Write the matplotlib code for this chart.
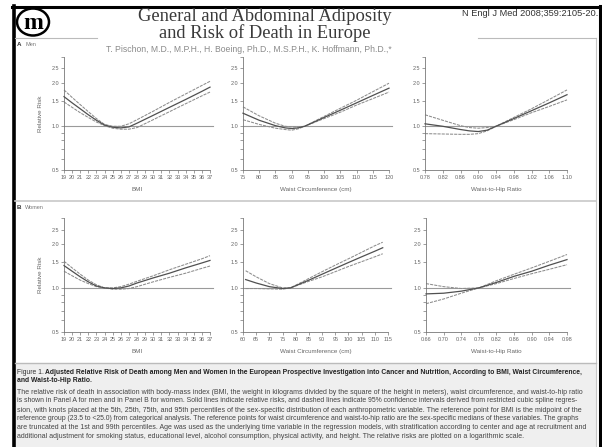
import matplotlib
matplotlib.use('Agg')
import matplotlib.pyplot as plt
from matplotlib.patches import Ellipse, Rectangle
from matplotlib.lines import Line2D

W, H = 602, 447

# ---------------- data ----------------
bmi_ticks = [19, 20, 21, 22, 23, 24, 25, 26, 27, 28, 29, 30, 31, 32, 33, 34, 35, 36, 37]
men_waist_ticks = [75, 80, 85, 90, 95, 100, 105, 110, 115, 120]
men_whr_ticks = ["0.78", "0.82", "0.86", "0.90", "0.94", "0.98", "1.02", "1.06", "1.10"]
women_waist_ticks = [60, 65, 70, 75, 80, 85, 90, 95, 100, 105, 110, 115]
women_whr_ticks = ["0.66", "0.70", "0.74", "0.78", "0.82", "0.86", "0.90", "0.94", "0.98"]
rr_ticks = ["0.5", "1.0", "1.5", "2.0", "2.5"]

men_bmi_x = [19, 20, 21, 22, 23, 24, 25, 26, 27, 28, 30, 32, 34, 36, 37]
men_bmi_rr = [1.60, 1.45, 1.32, 1.20, 1.10, 1.02, 0.985, 0.975, 0.99, 1.05, 1.19, 1.35, 1.53, 1.74, 1.86]
men_bmi_hi = [1.78, 1.58, 1.41, 1.26, 1.13, 1.03, 1.00, 1.00, 1.04, 1.11, 1.27, 1.46, 1.67, 1.91, 2.04]
men_bmi_lo = [1.47, 1.35, 1.24, 1.15, 1.07, 1.01, 0.97, 0.955, 0.955, 0.98, 1.11, 1.26, 1.43, 1.62, 1.72]

men_waist_x = [75, 80, 85, 88, 90, 92, 94, 100, 105, 110, 115, 120]
men_waist_rr = [1.23, 1.10, 1.01, 0.975, 0.965, 0.975, 1.0, 1.15, 1.29, 1.45, 1.63, 1.83]
men_waist_hi = [1.36, 1.18, 1.05, 1.00, 0.99, 0.99, 1.0, 1.17, 1.33, 1.51, 1.73, 1.98]
men_waist_lo = [1.11, 1.03, 0.97, 0.95, 0.94, 0.96, 1.0, 1.13, 1.25, 1.40, 1.55, 1.72]

men_whr_x = [0.78, 0.82, 0.86, 0.88, 0.90, 0.92, 0.94, 0.98, 1.02, 1.06, 1.10]
men_whr_rr = [1.04, 1.00, 0.95, 0.93, 0.92, 0.94, 1.0, 1.13, 1.28, 1.45, 1.65]
men_whr_hi = [1.20, 1.10, 1.01, 0.98, 0.97, 0.98, 1.0, 1.15, 1.32, 1.53, 1.78]
men_whr_lo = [0.89, 0.885, 0.88, 0.88, 0.89, 0.93, 1.0, 1.11, 1.24, 1.37, 1.52]

women_bmi_x = [19, 20, 21, 22, 23, 24, 25, 26, 27, 28, 30, 32, 34, 36, 37]
women_bmi_rr = [1.42, 1.30, 1.19, 1.10, 1.03, 1.0, 0.99, 1.0, 1.03, 1.08, 1.17, 1.26, 1.37, 1.48, 1.54]
women_bmi_hi = [1.52, 1.37, 1.24, 1.13, 1.05, 1.0, 1.0, 1.02, 1.06, 1.11, 1.21, 1.33, 1.45, 1.58, 1.66]
women_bmi_lo = [1.30, 1.21, 1.13, 1.07, 1.02, 1.0, 0.98, 0.98, 0.99, 1.02, 1.10, 1.18, 1.26, 1.36, 1.41]

women_waist_x = [61, 65, 70, 75, 78, 85, 90, 95, 100, 105, 110, 113]
women_waist_rr = [1.14, 1.08, 1.02, 0.99, 1.0, 1.13, 1.24, 1.36, 1.49, 1.63, 1.78, 1.88]
women_waist_hi = [1.31, 1.19, 1.07, 1.00, 1.0, 1.16, 1.29, 1.43, 1.58, 1.75, 1.94, 2.05]
women_waist_lo = [0.99, 0.99, 0.985, 0.98, 1.0, 1.11, 1.19, 1.29, 1.40, 1.51, 1.63, 1.71]

women_whr_x = [0.66, 0.70, 0.74, 0.78, 0.82, 0.86, 0.90, 0.94, 0.98]
women_whr_rr = [0.91, 0.92, 0.95, 1.0, 1.09, 1.20, 1.30, 1.43, 1.56]
women_whr_hi = [1.07, 1.02, 0.99, 1.0, 1.12, 1.24, 1.37, 1.52, 1.69]
women_whr_lo = [0.78, 0.84, 0.92, 1.0, 1.07, 1.16, 1.25, 1.34, 1.44]

title_lines = ["General and Abdominal Adiposity", "and Risk of Death in Europe"]
citation = "N Engl J Med 2008;359:2105-20."
authors = "T. Pischon, M.D., M.P.H., H. Boeing, Ph.D., M.S.P.H., K. Hoffmann, Ph.D.,*"
cap_head1 = "Adjusted Relative Risk of Death among Men and Women in the European Prospective Investigation into Cancer and Nutrition, According to BMI, Waist Circumference,"
cap_head2 = "and Waist-to-Hip Ratio."
cap_body = [
    "The relative risk of death in association with body-mass index (BMI, the weight in kilograms divided by the square of the height in meters), waist circumference, and waist-to-hip ratio",
    "is shown in Panel A for men and in Panel B for women. Solid lines indicate relative risks, and dashed lines indicate 95% confidence intervals derived from restricted cubic spline regres-",
    "sion, with knots placed at the 5th, 25th, 75th, and 95th percentiles of the sex-specific distribution of each anthropometric variable. The reference point for BMI is the midpoint of the",
    "reference group (23.5 to <25.0) from categorical analysis. The reference points for waist circumference and waist-to-hip ratio are the sex-specific medians of these variables. The graphs",
    "are truncated at the 1st and 99th percentiles. Age was used as the underlying time variable in the regression models, with stratification according to center and age at recruitment and",
    "additional adjustment for smoking status, educational level, alcohol consumption, physical activity, and height. The relative risks are plotted on a logarithmic scale.",
]

# ---------------- figure ----------------
plt.rcParams['font.family'] = ['Liberation Sans', 'DejaVu Sans']
fig = plt.figure(figsize=(W / 100, H / 100), dpi=100)
fig.patch.set_facecolor('white')


def fx(x):
    return x / W


def fy(y):
    return 1 - y / H


def hline(y, x0, x1, color, lw):
    fig.add_artist(Line2D([fx(x0), fx(x1)], [fy(y), fy(y)], color=color, lw=lw))


def vline(x, y0, y1, color, lw):
    fig.add_artist(Line2D([fx(x), fx(x)], [fy(y0), fy(y1)], color=color, lw=lw))


# caption background
fig.add_artist(Rectangle((fx(15), fy(447)), fx(596) - fx(15), fy(363) - fy(447),
                         facecolor='#efefef', edgecolor='none', zorder=0))
# frame lines
hline(7, 12, 601, 'black', 2.2)
vline(13.5, 6, 447, 'black', 2.6)
vline(600, 6, 447, 'black', 2.2)
vline(596, 38, 447, '#c8c8c8', 0.8)
hline(38, 15, 97, '#bbbbbb', 0.8)
hline(38, 478, 596, '#bbbbbb', 0.8)
hline(201, 15, 596, '#c8c8c8', 1.2)
hline(363, 15, 596, '#bbbbbb', 1.0)

# logo
fig.add_artist(Ellipse((fx(33), fy(22)), 32 / W, 27 / H, facecolor='none',
                       edgecolor='black', lw=1.8))
fig.text(fx(33), fy(23.5), "m", ha='center', va='center', fontsize=17,
         fontweight='bold', family='Liberation Serif', color='black')

# header text
fig.text(fx(265), fy(21), title_lines[0], ha='center', va='baseline', fontsize=13.3,
         family='Liberation Serif', color='#3a3a3a')
fig.text(fx(265), fy(38), title_lines[1], ha='center', va='baseline', fontsize=13.3,
         family='Liberation Serif', color='#3a3a3a')
fig.text(fx(598), fy(13), citation, ha='right', va='center', fontsize=6.7, color='#333333')
fig.text(fx(106), fy(49), authors, ha='left', va='center', fontsize=6.2, color='#8a8a8a')

fig.text(fx(17), fy(45), "A", ha='left', va='center', fontsize=4.5, fontweight='bold', color='#333333')
fig.text(fx(25), fy(45), "Men", ha='left', va='center', fontsize=4, color='#777777')
fig.text(fx(17), fy(208), "B", ha='left', va='center', fontsize=4.5, fontweight='bold', color='#333333')
fig.text(fx(25), fy(208), "Women", ha='left', va='center', fontsize=4, color='#777777')


def make_axes(x0, x1, ytop, ybot, xlim, ticks, ticklabels, xlabel, ylabel,
              xs, rr, hi, lo):
    ax = fig.add_axes([fx(x0), fy(ybot), fx(x1) - fx(x0), fy(ytop) - fy(ybot)])
    ax.set_yscale('log')
    ax.set_ylim(0.5, 3.0)
    ax.set_xlim(*xlim)
    ax.patch.set_alpha(0)
    for s in ['top', 'right']:
        ax.spines[s].set_visible(False)
    for s in ['left', 'bottom']:
        ax.spines[s].set_color('#777777')
        ax.spines[s].set_linewidth(0.6)
    ax.set_yticks([float(t) for t in rr_ticks])
    ax.set_yticklabels(rr_ticks)
    ax.set_yticks([0.6, 0.7, 0.8, 0.9, 3.0], minor=True)
    ax.yaxis.set_minor_formatter(plt.NullFormatter())
    ax.set_xticks([float(t) for t in ticks])
    ax.set_xticklabels([str(t) for t in ticklabels])
    ax.tick_params(which='both', length=2.5, width=0.5, colors='#777777',
                   labelsize=4, pad=1, labelcolor='#666666')
    ax.tick_params(which='minor', length=2.0)
    span = xlim[1] - xlim[0]
    ax.plot([xlim[0], xlim[1] + 0.02 * span], [1, 1], color='#9a9a9a', lw=0.8,
            clip_on=False, zorder=1)
    ax.plot(xs, hi, color='#8c8c8c', lw=0.75, ls=(0, (3, 1)), zorder=2, clip_on=False)
    ax.plot(xs, lo, color='#8c8c8c', lw=0.75, ls=(0, (3, 1)), zorder=2, clip_on=False)
    ax.plot(xs, rr, color='#505050', lw=0.9, zorder=3, clip_on=False)
    ax.set_xlabel(xlabel, fontsize=4.5, color='#666666', labelpad=5)
    if ylabel:
        ax.set_ylabel(ylabel, fontsize=4.5, color='#666666', labelpad=6)
    return ax


make_axes(64, 210, 57, 170, (19, 37), bmi_ticks, bmi_ticks, "BMI", "Relative Risk",
          men_bmi_x, men_bmi_rr, men_bmi_hi, men_bmi_lo)
make_axes(243, 389, 57, 170, (75, 120), men_waist_ticks, men_waist_ticks,
          "Waist Circumference (cm)", None,
          men_waist_x, men_waist_rr, men_waist_hi, men_waist_lo)
make_axes(425, 567, 57, 170, (0.78, 1.10), men_whr_ticks, men_whr_ticks,
          "Waist-to-Hip Ratio", None,
          men_whr_x, men_whr_rr, men_whr_hi, men_whr_lo)
make_axes(64, 210, 218, 332, (19, 37), bmi_ticks, bmi_ticks, "BMI", "Relative Risk",
          women_bmi_x, women_bmi_rr, women_bmi_hi, women_bmi_lo)
make_axes(243, 388, 218, 332, (60, 115), women_waist_ticks, women_waist_ticks,
          "Waist Circumference (cm)", None,
          women_waist_x, women_waist_rr, women_waist_hi, women_waist_lo)
make_axes(426, 567, 218, 332, (0.66, 0.98), women_whr_ticks, women_whr_ticks,
          "Waist-to-Hip Ratio", None,
          women_whr_x, women_whr_rr, women_whr_hi, women_whr_lo)

# caption text, fitted to the box width
fig.canvas.draw()
renderer = fig.canvas.get_renderer()
X0, X1 = 17, 589


def fit_text(x, y, s, target, base=5.0, **kw):
    t = fig.text(fx(x), fy(y), s, ha='left', va='center', fontsize=base, **kw)
    w = t.get_window_extent(renderer).width
    t.set_fontsize(base * target / w)
    return t


lab = fig.text(fx(X0), fy(372), "Figure 1.", ha='left', va='center', fontsize=4.6, color='#333333')
lw_ = lab.get_window_extent(renderer).width
head = fit_text(X0 + lw_ + 3, 372, cap_head1, X1 - (X0 + lw_ + 3), fontweight='bold', color='#222222')
hs = head.get_fontsize()
lab.set_fontsize(hs)
fig.text(fx(X0), fy(380), cap_head2, ha='left', va='center', fontsize=hs,
         fontweight='bold', color='#222222')
sizes = []
ys = [392, 401, 410, 419, 427.5, 436]
for i, line in enumerate(cap_body[:-1]):
    t = fit_text(X0, ys[i], line, X1 - X0, color='#444444')
    sizes.append(t.get_fontsize())
fig.text(fx(X0), fy(ys[-1]), cap_body[-1], ha='left', va='center',
         fontsize=sum(sizes) / len(sizes), color='#444444')

fig.savefig('out.png', dpi=100, facecolor='white')
